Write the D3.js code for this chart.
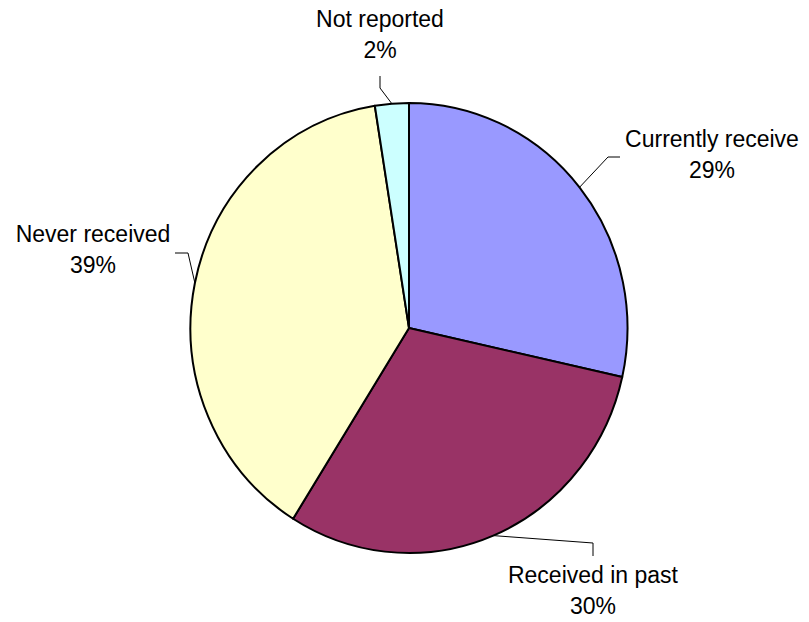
<!DOCTYPE html>
<html>
<head>
<meta charset="utf-8">
<script src="https://cdn.jsdelivr.net/npm/d3@7"></script>
<style>
  html, body { margin: 0; padding: 0; background: #fff; }
  svg { display: block; }
</style>
</head>
<body>
<div id="chart"></div>
<script>
// data
const categories = ["Currently receive", "Received in past", "Never received", "Not reported"];
const shares = [28.5, 30.4, 38.6, 2.5];
const percentLabels = ["29%", "30%", "39%", "2%"];
const colors = ["#9999ff", "#993366", "#ffffcc", "#ccffff"];

// layout of labels (text centre, first baseline, leader elbow + end)
const labelLayout = {
  "Currently receive": {x: 712, y: 147, leader: [[608, 157], [620, 157]]},
  "Received in past":  {x: 593, y: 583, leader: [[593, 543], [593, 556]]},
  "Never received":    {x: 93,  y: 242, leader: [[188, 253], [175, 253]]},
  "Not reported":      {x: 380, y: 27,  leader: [[380, 88], [380, 76]]}
};

const width = 809, height = 622;
const cx = 409, cy = 328;
const ry = 225, rx = 218.5;
const lineGap = 31;

const svg = d3.select("#chart").append("svg")
  .attr("width", width)
  .attr("height", height);

const data = categories.map((c, i) => ({name: c, value: shares[i], label: percentLabels[i], color: colors[i]}));

const pie = d3.pie()
  .value(d => d.value)
  .sort(null);

const arc = d3.arc()
  .innerRadius(0)
  .outerRadius(ry);

const arcs = pie(data);

const g = svg.append("g")
  .attr("transform", `translate(${cx},${cy}) scale(${rx / ry},1)`);

g.selectAll("path")
  .data(arcs)
  .join("path")
  .attr("d", arc)
  .attr("fill", d => d.data.color)
  .attr("stroke", "#000")
  .attr("stroke-width", 2)
  .attr("stroke-linejoin", "round")
  .attr("vector-effect", "non-scaling-stroke");

// anchor on the pie edge at mid angle
const anchor = d => {
  const a = (d.startAngle + d.endAngle) / 2;
  return [cx + rx * Math.sin(a), cy - ry * Math.cos(a)];
};

const line = d3.line();

svg.append("g")
  .selectAll("path")
  .data(arcs)
  .join("path")
  .attr("d", d => line([anchor(d)].concat(labelLayout[d.data.name].leader)))
  .attr("fill", "none")
  .attr("stroke", "#000")
  .attr("stroke-width", 1);

const labels = svg.append("g")
  .attr("font-family", "'Liberation Sans', Arial, sans-serif")
  .attr("font-size", 23)
  .attr("fill", "#000")
  .attr("text-anchor", "middle")
  .selectAll("text")
  .data(arcs)
  .join("text")
  .attr("x", d => labelLayout[d.data.name].x)
  .attr("y", d => labelLayout[d.data.name].y);

labels.append("tspan")
  .attr("x", d => labelLayout[d.data.name].x)
  .text(d => d.data.name);

labels.append("tspan")
  .attr("x", d => labelLayout[d.data.name].x)
  .attr("dy", lineGap)
  .text(d => d.data.label);
</script>
</body>
</html>
